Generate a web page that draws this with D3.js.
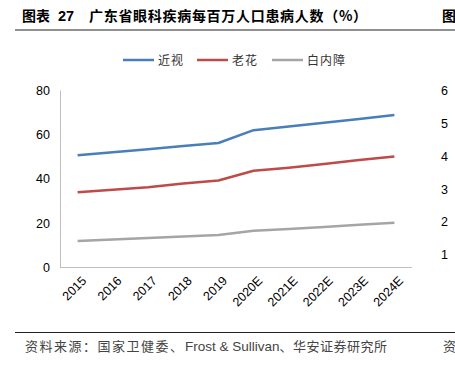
<html>
<script src='https://d3js.org/d3.v7.min.js'></script>
<style>
body { margin: 0; background: #fff; }
text { font-family: Arial, "Liberation Sans", sans-serif; }
.cjk { font-family: "Noto Sans CJK SC", sans-serif; }
</style>
<body onload='init()'>
<svg width=455 height=369></svg>
<script>
// data
var years = ["2015","2016","2017","2018","2019","2020E","2021E","2022E","2023E","2024E"];
var myopia = [50.6, 51.9, 53.3, 54.8, 56.1, 61.9, 63.6, 65.2, 66.9, 68.7];
var presbyopia = [33.9, 35.0, 36.2, 37.9, 39.2, 43.6, 45.0, 46.6, 48.4, 50.0];
var cataract = [11.9, 12.6, 13.3, 14.0, 14.6, 16.6, 17.4, 18.3, 19.3, 20.2];
var yTicks = [0, 20, 40, 60, 80];
var seriesNames = ["近视", "老花", "白内障"];
var rightTicks = ["6", "5", "4", "3", "2", "1"];

function init() {
  var svg = d3.select("svg");
  var series = [
    {name: seriesNames[0], values: myopia, color: "#4a7ebb"},
    {name: seriesNames[1], values: presbyopia, color: "#be4b48"},
    {name: seriesNames[2], values: cataract, color: "#a5a5a5"}
  ];

  // title + rules
  var t = svg.append("text").attr("x", 22).attr("y", 21)
    .attr("class", "cjk").style("font-size", "14px").style("font-weight", "bold");
  t.append("tspan").text("图表");
  t.append("tspan").attr("x", 58).style("font-family", "Arial, 'Liberation Sans'").style("font-size", "14.5px").text("27");
  t.append("tspan").attr("x", 89).style("letter-spacing", "0.7px").text("广东省眼科疾病每百万人口患病人数（%）");
  svg.append("text").attr("x", 442).attr("y", 21)
    .attr("class", "cjk").style("font-size", "14px").style("font-weight", "bold")
    .text("图");
  svg.append("line").attr("x1", 15).attr("x2", 455).attr("y1", 30).attr("y2", 30)
    .attr("stroke", "#222").attr("stroke-width", 1);
  svg.append("line").attr("x1", 15).attr("x2", 455).attr("y1", 332.5).attr("y2", 332.5)
    .attr("stroke", "#222").attr("stroke-width", 1);

  var x = d3.scalePoint().domain(years).range([60, 412]).padding(0.5);
  var y = d3.scaleLinear().domain([0, 80]).range([267.5, 90]);

  // axes
  var ya = svg.append("g").attr("transform", "translate(60,0)")
    .call(d3.axisLeft(y).tickValues(yTicks).tickSize(0).tickPadding(10));
  ya.select(".domain").attr("stroke", "#bfbfbf");
  ya.selectAll("text").style("font-size", "12.5px").style("font-family", "Arial, 'Liberation Sans'").attr("fill", "#000");

  var xa = svg.append("g").attr("transform", "translate(0,267.5)")
    .call(d3.axisBottom(x).tickSize(0).tickPadding(0));
  xa.select(".domain").attr("d", "M60,0H412").attr("stroke", "#bfbfbf");
  xa.selectAll("text")
    .style("font-size", "12.5px").style("font-family", "Arial, 'Liberation Sans'").attr("fill", "#000")
    .attr("text-anchor", "end")
    .attr("dy", "0.35em")
    .attr("transform", "translate(6,11) rotate(-45)");

  // lines
  var line = d3.line()
    .x(function (d, i) { return x(years[i]); })
    .y(function (d) { return y(d); });
  series.forEach(function (s) {
    svg.append("path").datum(s.values)
      .attr("d", line).attr("fill", "none")
      .attr("stroke", s.color).attr("stroke-width", 2.5)
      .attr("stroke-linejoin", "round");
  });

  // legend
  var legX = [123, 197, 272];
  series.forEach(function (s, i) {
    svg.append("line").attr("x1", legX[i]).attr("x2", legX[i] + 31)
      .attr("y1", 60).attr("y2", 60).attr("stroke", s.color).attr("stroke-width", 2.5);
    svg.append("text").attr("x", legX[i] + 35).attr("y", 64.5)
      .attr("class", "cjk").style("font-size", "12px").style("letter-spacing", "1px").attr("fill", "#333")
      .text(s.name);
  });

  // partial right chart axis labels
  var ry = d3.scaleLinear().domain([0, 6]).range([288, 91]);
  svg.append("g").selectAll("text").data(rightTicks).enter().append("text")
    .attr("x", 441).attr("y", function (d) { return ry(+d) + 4; })
    .style("font-size", "12.5px").text(function (d) { return d; });

  // source
  var s = svg.append("text").attr("x", 25).attr("y", 351)
    .attr("class", "cjk").style("font-size", "13px").attr("fill", "#444");
  s.append("tspan").style("letter-spacing", "1.5px").text("资料来源：国家卫健委、");
  s.append("tspan").attr("x", 185).style("font-family", "Arial, 'Liberation Sans'").style("font-size", "13.5px").text("Frost & Sullivan");
  s.append("tspan").style("letter-spacing", "0.5px").text("、华安证券研究所");
  svg.append("text").attr("x", 443).attr("y", 351)
    .attr("class", "cjk").style("font-size", "13px").attr("fill", "#444")
    .text("资");
}
</script>
</body>
</html>
